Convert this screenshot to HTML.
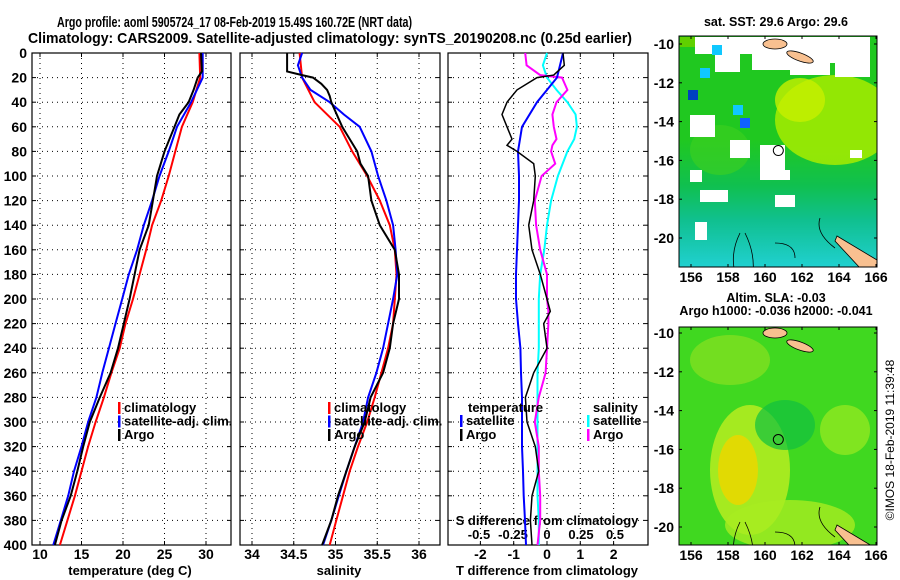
<!DOCTYPE html>
<html><head><meta charset="utf-8"><style>
html,body{margin:0;padding:0;background:#fff;}
svg{display:block;font-family:"Liberation Sans",sans-serif;font-weight:bold;}
</style></head><body>
<svg id="c" width="900" height="580" viewBox="0 0 900 580">
<text x="57" y="27" font-size="15" textLength="355" lengthAdjust="spacingAndGlyphs">Argo profile: aoml 5905724_17 08-Feb-2019 15.49S 160.72E (NRT data)</text>
<text x="28" y="43" font-size="15" textLength="604" lengthAdjust="spacingAndGlyphs">Climatology: CARS2009. Satellite-adjusted climatology: synTS_20190208.nc (0.25d earlier)</text>
<g id="maps"></g>
<g id="plots"></g>
</svg>
<script>
const depths=[0,20,40,60,80,100,120,140,160,180,200,220,240,260,280,300,320,340,360,380,400];
const tempClim=[29.2,29.3,28.4,27.1,26.3,25.5,24.6,23.5,22.8,22.0,21.2,20.3,19.6,18.6,17.7,16.7,15.8,15.0,14.2,13.3,12.4];
const tempSat=[29.6,29.6,28.2,26.5,25.5,24.4,23.5,22.5,21.7,20.7,19.9,19.1,18.3,17.5,16.8,15.8,15.0,14.1,13.4,12.5,11.6];
const argoDepthT=[0,15,20,30,40,50,60,80,100,120,140,160,180,200,220,240,260,280,300,320,340,360,380,400];
const tempArgo=[29.4,29.5,29.0,28.5,27.9,26.8,26.2,25.0,24.1,23.6,23.1,22.0,21.4,20.8,20.1,19.4,18.5,17.2,16.0,15.2,14.5,13.7,12.6,11.8];
const salClim=[34.57,34.60,34.75,35.05,35.2,35.38,35.53,35.65,35.71,35.73,35.71,35.69,35.63,35.55,35.47,35.38,35.27,35.17,35.09,35.01,34.93];
const satDepthS=[0,10,20,30,40,50,60,80,100,120,140,160,180,200,220,240,260,280,300,320,340,360,380,400];
const salSat=[34.6,34.55,34.6,34.7,34.93,35.1,35.29,35.43,35.51,35.61,35.69,35.72,35.74,35.69,35.63,35.57,35.49,35.39,35.33,35.23,35.13,35.04,34.95,34.85];
const argoDepthS=[0,15,18,20,25,30,35,40,60,80,90,100,120,140,160,180,200,220,240,260,280,300,320,340,360,380,400];
const salArgo=[34.42,34.42,34.6,34.73,34.83,34.9,34.93,34.95,35.08,35.26,35.3,35.39,35.43,35.53,35.71,35.76,35.76,35.69,35.65,35.57,35.42,35.35,35.23,35.13,35.03,34.95,34.84];
const tdSat=[0.48,0.3,-0.3,-0.75,-0.87,-0.84,-0.84,-0.87,-0.9,-0.93,-0.93,-0.87,-0.8,-0.78,-0.75,-0.75,-0.75,-0.72,-0.7,-0.66,-0.63];
const diffDepthA=[0,10,18,20,30,40,50,60,70,75,80,90,100,120,140,160,180,200,210,220,240,260,280,300,320,340,360,380,400];
const tdArgo=[0.48,0.52,0.2,-0.3,-0.9,-1.2,-1.35,-1.2,-1.05,-1.2,-0.9,-0.4,-0.35,-0.4,-0.55,-0.45,-0.2,0.0,0.1,-0.1,0.0,-0.4,-0.65,-0.6,-0.35,-0.25,-0.45,-0.5,-0.45];
const sdArgo=[-0.16,-0.15,-0.05,0.11,0.15,0.07,0.04,0.05,0.07,0.04,0.03,0.06,-0.04,-0.09,-0.08,-0.05,0,0,0.01,0.01,0,-0.01,-0.06,-0.09,-0.06,-0.06,-0.05,-0.05,-0.07];
const sdSatDepth=[0,10,20,30,40,50,60,70,80,100,120,140,160,180,200,220,240,260,280,300,320,340,360,380,400];
const sdSat=[0,-0.03,0,0.07,0.15,0.21,0.22,0.2,0.15,0.08,0.03,0,-0.02,-0.05,-0.06,-0.06,-0.06,-0.07,-0.07,-0.07,-0.07,-0.07,-0.07,-0.06,-0.06];
const tempTicks=[10,15,20,25,30];
const salTicks=[34,34.5,35,35.5,36];
const salTickLabels=["34","34.5","35","35.5","36"];
const tdTicks=[-2,-1,0,1,2];
const sdTicks=[-0.5,-0.25,0,0.25,0.5];
const depthTicks=[0,20,40,60,80,100,120,140,160,180,200,220,240,260,280,300,320,340,360,380,400];
const latTicks=[-10,-12,-14,-16,-18,-20];
const lonTicks=[156,158,160,162,164,166];

const NS="http://www.w3.org/2000/svg";
const plots=document.getElementById('plots');
const maps=document.getElementById('maps');
function mk(tag,attrs,parent){const e=document.createElementNS(NS,tag);for(const k in attrs)e.setAttribute(k,attrs[k]);(parent||plots).appendChild(e);return e;}
const Y0=53,Y1=545;
const yD=d=>Y0+d*(Y1-Y0)/400;
const xT=t=>40+(t-10)*8.3;
const xS=s=>252+(s-34)*83.5;
const xTD=v=>547+v*33.3;
const xSD=v=>547+v*136;

const panels=[{x0:32,x1:231,name:'temperature-panel'},{x0:240,x1:440,name:'salinity-panel'},{x0:448,x1:648,name:'difference-panel'}];
panels.forEach((p,i)=>{
  const g=mk('g',{});
  
  
  depthTicks.forEach(d=>{
    if(d>0&&d<400){const l=mk('line',{x1:p.x0,x2:p.x1,y1:yD(d),y2:yD(d),stroke:'#000','stroke-width':1,'stroke-dasharray':'1,4'},g);
    }
    mk('line',{x1:p.x0,x2:p.x0+4,y1:yD(d),y2:yD(d),stroke:'#000'},g);
    mk('line',{x1:p.x1-4,x2:p.x1,y1:yD(d),y2:yD(d),stroke:'#000'},g);
  });
  let ticks,fx;
  if(i==0){ticks=tempTicks;fx=xT;}else if(i==1){ticks=salTicks;fx=xS;}else{ticks=tdTicks;fx=xTD;}
  ticks.forEach((t,j)=>{
    const x=fx(t);
    const l=mk('line',{x1:x,x2:x,y1:Y0,y2:Y1,stroke:'#000','stroke-dasharray':'1,4'},g);
    
    mk('line',{x1:x,x2:x,y1:Y1,y2:Y1-4,stroke:'#000'},g);
    mk('line',{x1:x,x2:x,y1:Y0,y2:Y0+4,stroke:'#000'},g);
    const tx=mk('text',{x:x,y:559,'font-size':14,'text-anchor':'middle'},g);
    tx.textContent=i==1?salTickLabels[j]:String(t);
    
  });
  const r=mk('rect',{x:p.x0,y:Y0,width:p.x1-p.x0,height:Y1-Y0,fill:'none',stroke:'#000','stroke-width':1.2},g);
  
});
depthTicks.forEach(d=>{
  const t=mk('text',{x:27,y:yD(d)+5,'font-size':14,'text-anchor':'end'});
  t.textContent=d;
  
});
sdTicks.forEach(s=>{
  const t=mk('text',{x:xSD(s),y:539,'font-size':13,'text-anchor':'middle'});
  t.textContent=String(s);
  
});
function lab(txt,x,y,name,anchor){const t=mk('text',{x:x,y:y,'font-size':13,'text-anchor':anchor||'middle'});t.textContent=txt;return t;}
lab('temperature (deg C)',130,575,'x-axis-title-temperature');
lab('salinity',339,575,'x-axis-title-salinity');
lab('T difference from climatology',547,575,'x-axis-title-t-diff');
lab('S difference from climatology',547,525,'x-axis-title-s-diff');

function line(xs,ds,fx,color,name,w){
  const pts=xs.map((v,k)=>fx(v).toFixed(1)+','+yD(ds[k]).toFixed(1)).join(' ');
  const pl=mk('polyline',{points:pts,fill:'none',stroke:color,'stroke-width':w||2});
  
}
line(tempClim,depths,xT,'#ff0000','temp-climatology-line');
line(tempSat,depths,xT,'#0000ff','temp-satellite-line');
line(tempArgo,argoDepthT,xT,'#000','temp-argo-line');
line(salClim,depths,xS,'#ff0000','sal-climatology-line');
line(salSat,satDepthS,xS,'#0000ff','sal-satellite-line');
line(salArgo,argoDepthS,xS,'#000','sal-argo-line');
line(sdSat,sdSatDepth,xSD,'#00ffff','s-diff-satellite-line');
line(sdArgo,diffDepthA,xSD,'#ff00ff','s-diff-argo-line');
line(tdSat,depths,xTD,'#0000ff','t-diff-satellite-line');
line(tdArgo,diffDepthA,xTD,'#000','t-diff-argo-line',1.5);

function legEntry(x,y,color,txt){
  const g=mk('g',{});
  
  mk('rect',{x:x,y:y-10,width:2.5,height:12,fill:color},g);
  const t=mk('text',{x:x+6,y:y,'font-size':13},g);t.textContent=txt;
}
[[118,'#f00','climatology'],[118,'#00f','satellite-adj. clim.'],[118,'#000','Argo']].forEach((e,k)=>legEntry(e[0],412+k*13.5,e[1],e[2]));
[[328,'#f00','climatology'],[328,'#00f','satellite-adj. clim.'],[328,'#000','Argo']].forEach((e,k)=>legEntry(e[0],412+k*13.5,e[1],e[2]));
lab('temperature',468,412,'legend-title-temperature','start');
lab('salinity',593,412,'legend-title-salinity','start');
legEntry(460,425,'#00f','satellite');legEntry(460,439,'#000','Argo');
legEntry(587,425,'#0ff','satellite');legEntry(587,439,'#f0f','Argo');

// maps
const MX0=679,MX1=877;
const xLon=l=>691+(l-156)*18.5;
function map(y0,y1,off,name,kind){
  const g=mk('g',{},maps);
  
  const yLat=la=>y0+off+(-10-la)*19.4;
  const id=name+'-clip';
  const cp=mk('clipPath',{id:id},g);mk('rect',{x:MX0,y:y0,width:MX1-MX0,height:y1-y0},cp);
  const c=mk('g',{'clip-path':'url(#'+id+')'},g);
  if(kind==0){
    const lg=mk('linearGradient',{id:'sstg',x1:0,y1:0,x2:0,y2:1},c);
    [[0,'#20c820'],[0.45,'#20c820'],[0.65,'#10c050'],[0.8,'#10c090'],[1,'#20d0d0']].forEach(s=>mk('stop',{offset:s[0],'stop-color':s[1]},lg));
    mk('rect',{x:MX0,y:y0,width:198,height:y1-y0,fill:'url(#sstg)'},c);
    mk('ellipse',{cx:835,cy:120,rx:60,ry:45,fill:'#a8ec00',opacity:0.85},c);
    mk('ellipse',{cx:800,cy:100,rx:25,ry:22,fill:'#c8f000',opacity:0.8},c);
    mk('ellipse',{cx:720,cy:150,rx:30,ry:25,fill:'#40d020',opacity:0.6},c);
    [[695,37,100,17],[715,54,25,18],[752,54,40,16],[772,37,65,26],[790,63,40,12],[835,37,35,40],[690,115,25,22],[730,140,20,18],[760,145,25,35],[775,195,20,12],[700,190,28,12],[690,170,12,12],[695,222,12,18],[770,170,20,10],[850,150,12,8]].forEach(r=>mk('rect',{x:r[0],y:r[1],width:r[2],height:r[3],fill:'#fff'},c));
    [[712,45,'#10c8ff'],[700,68,'#10c8ff'],[733,105,'#10c8ff'],[688,90,'#0040c0'],[740,118,'#1060ff']].forEach(r=>mk('rect',{x:r[0],y:r[1],width:10,height:10,fill:r[2]},c));
    mk('rect',{x:680,y:37,width:15,height:10,fill:'#60d000'},c);
  } else {
    mk('rect',{x:MX0,y:y0,width:198,height:y1-y0,fill:'#40d820'},c);
    mk('ellipse',{cx:730,cy:360,rx:40,ry:25,fill:'#80e020',opacity:0.8},c);
    mk('ellipse',{cx:750,cy:470,rx:40,ry:65,fill:'#b0ec20',opacity:0.9},c);
    mk('ellipse',{cx:738,cy:470,rx:20,ry:35,fill:'#e8d800',opacity:0.9},c);
    mk('ellipse',{cx:790,cy:525,rx:65,ry:25,fill:'#a8ec20',opacity:0.8},c);
    mk('ellipse',{cx:785,cy:425,rx:30,ry:25,fill:'#10c040',opacity:0.7},c);
    mk('ellipse',{cx:845,cy:430,rx:25,ry:25,fill:'#90e820',opacity:0.8},c);
  }
  mk('ellipse',{cx:775,cy:yLat(-10)+0,rx:12,ry:5,fill:'#f8c090',stroke:'#000','stroke-width':0.8},c);
  mk('ellipse',{cx:800,cy:yLat(-10)+13,rx:14,ry:4,fill:'#f8c090',stroke:'#000','stroke-width':0.8,transform:'rotate(20 800 '+(yLat(-10)+13)+')'},c);
  const b=yLat(-20);
  mk('polygon',{points:'837,'+(b-2)+' 877,'+(b+22)+' 877,'+(b+30)+' 860,'+(b+30)+' 835,'+(b+3),fill:'#f8c090',stroke:'#000','stroke-width':0.8},c);
  mk('path',{d:'M740 '+(b-5)+' q-10 20 -5 40 M745 '+(b-5)+' q10 20 8 40 M820 '+(b-20)+' q-5 15 15 30 M775 '+(b+5)+' q20 0 20 15',fill:'none',stroke:'#000','stroke-width':0.8},c);
  const m=mk('circle',{cx:xLon(160.72),cy:yLat(-15.49),r:5,fill:'none',stroke:'#000','stroke-width':1},g);
  
  mk('rect',{x:MX0,y:y0,width:MX1-MX0,height:y1-y0,fill:'none',stroke:'#000'},g);
  lonTicks.forEach(l=>{
    mk('line',{x1:xLon(l),x2:xLon(l),y1:y1,y2:y1-3,stroke:'#000'},g);
    mk('line',{x1:xLon(l),x2:xLon(l),y1:y0,y2:y0+3,stroke:'#000'},g);
    const t=mk('text',{x:xLon(l),y:y1+15,'font-size':14,'text-anchor':'middle'},g);t.textContent=l;
    
  });
  latTicks.forEach(la=>{
    mk('line',{x1:MX0,x2:MX0+3,y1:yLat(la),y2:yLat(la),stroke:'#000'},g);
    mk('line',{x1:MX1,x2:MX1-3,y1:yLat(la),y2:yLat(la),stroke:'#000'},g);
    const t=mk('text',{x:674,y:yLat(la)+5,'font-size':14,'text-anchor':'end'},g);t.textContent=la;
    
  });
}
map(36,267,8,'sst-map',0);
map(327,545,6,'sla-map',1);
function mt(txt,x,y,name){const t=mk('text',{x:x,y:y,'font-size':12.5,'text-anchor':'middle'},maps);t.textContent=txt;}
mt('sat. SST: 29.6 Argo: 29.6',776,26,'sst-map-title');
mt('Altim. SLA: -0.03',776,302,'sla-map-title');
mt('Argo h1000: -0.036 h2000: -0.041',776,315,'sla-map-subtitle');
const cr=mk('text',{x:0,y:0,'font-size':12,'text-anchor':'middle',transform:'translate(894,440) rotate(-90)',style:'font-weight:normal'},maps);
cr.textContent='©IMOS 18-Feb-2019 11:39:48';

</script>
</body></html>
